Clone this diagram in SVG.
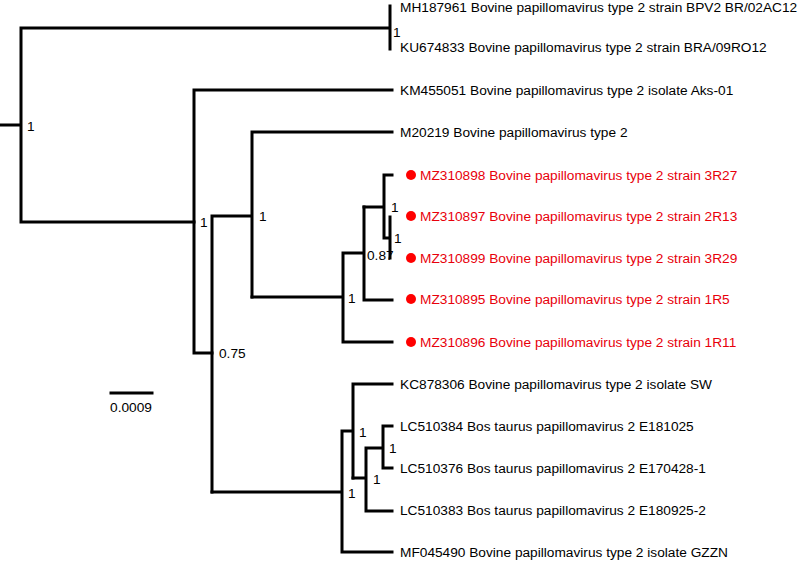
<svg xmlns="http://www.w3.org/2000/svg" width="800" height="561" viewBox="0 0 800 561">
<style>
.br{fill:none;stroke:#000;stroke-width:3;stroke-linecap:square}
.lab{font-family:"Liberation Sans",Arial,sans-serif;font-size:13.7px;fill:#000}
.red{font-family:"Liberation Sans",Arial,sans-serif;font-size:13.7px;fill:#e8000b}
.sup{font-family:"Liberation Sans",Arial,sans-serif;font-size:13.7px;fill:#000}
.dot{fill:#f00}
</style>
<rect width="800" height="561" fill="#fff"/>
<g id="connectors">
<path class="br" d="M0,125H21M21,28V222M21,28H390M390,6V49M21,222H194"/>
<path class="br" d="M194,90V353M194,90H392M194,353H212"/>
<path class="br" d="M212,216V492M212,216H252M252,132V297M252,132H392"/>
<path class="br" d="M252,297H343M343,253V342M343,342H392M343,253H364M364,207V300M364,300H392"/>
<path class="br" d="M364,207H384M384,175V238M384,175H392M384,238H390M390,217V258"/>
<path class="br" d="M212,492H342M342,431V552M342,552H392M342,431H353M353,384V478M353,384H392"/>
<path class="br" d="M353,478H366M366,448V511M366,511H392M366,448H383M383,426V468M383,426H392M383,468H392"/>
</g>
<g id="supports">
<text class="sup" x="393" y="37">1</text>
<text class="sup" x="27" y="131">1</text>
<text class="sup" x="200" y="227">1</text>
<text class="sup" x="259" y="221">1</text>
<text class="sup" x="348" y="303">1</text>
<text class="sup" x="367" y="260">0.87</text>
<text class="sup" x="391" y="212">1</text>
<text class="sup" x="394" y="243">1</text>
<text class="sup" x="219" y="358">0.75</text>
<text class="sup" x="348" y="498">1</text>
<text class="sup" x="359" y="437">1</text>
<text class="sup" x="373" y="484">1</text>
<text class="sup" x="389" y="453">1</text>
</g>
<g id="leaf-MH187961"><text class="lab" x="400" y="12">MH187961 Bovine papillomavirus type 2 strain BPV2 BR/02AC12</text></g>
<g id="leaf-KU674833"><text class="lab" x="400" y="52">KU674833 Bovine papillomavirus type 2 strain BRA/09RO12</text></g>
<g id="leaf-KM455051"><text class="lab" x="400" y="95">KM455051 Bovine papillomavirus type 2 isolate Aks-01</text></g>
<g id="leaf-M20219"><text class="lab" x="400" y="137">M20219 Bovine papillomavirus type 2</text></g>
<g id="leaf-MZ310898"><circle class="dot" cx="411" cy="175" r="5"/><text class="red" x="420" y="180">MZ310898 Bovine papillomavirus type 2 strain 3R27</text></g>
<g id="leaf-MZ310897"><circle class="dot" cx="411" cy="216" r="5"/><text class="red" x="420" y="221">MZ310897 Bovine papillomavirus type 2 strain 2R13</text></g>
<g id="leaf-MZ310899"><circle class="dot" cx="411" cy="258" r="5"/><text class="red" x="420" y="263">MZ310899 Bovine papillomavirus type 2 strain 3R29</text></g>
<g id="leaf-MZ310895"><circle class="dot" cx="411" cy="299" r="5"/><text class="red" x="420" y="304">MZ310895 Bovine papillomavirus type 2 strain 1R5</text></g>
<g id="leaf-MZ310896"><circle class="dot" cx="411" cy="342" r="5"/><text class="red" x="420" y="347">MZ310896 Bovine papillomavirus type 2 strain 1R11</text></g>
<g id="leaf-KC878306"><text class="lab" x="400" y="389">KC878306 Bovine papillomavirus type 2 isolate SW</text></g>
<g id="leaf-LC510384"><text class="lab" x="400" y="431">LC510384 Bos taurus papillomavirus 2 E181025</text></g>
<g id="leaf-LC510376"><text class="lab" x="400" y="473">LC510376 Bos taurus papillomavirus 2 E170428-1</text></g>
<g id="leaf-LC510383"><text class="lab" x="400" y="515">LC510383 Bos taurus papillomavirus 2 E180925-2</text></g>
<g id="leaf-MF045490"><text class="lab" x="400" y="557">MF045490 Bovine papillomavirus type 2 isolate GZZN</text></g>
<g id="scale">
<path class="br" d="M111,393H152" stroke-linecap="butt"/>
<text class="lab" x="131" y="412" text-anchor="middle">0.0009</text>
</g>
</svg>
